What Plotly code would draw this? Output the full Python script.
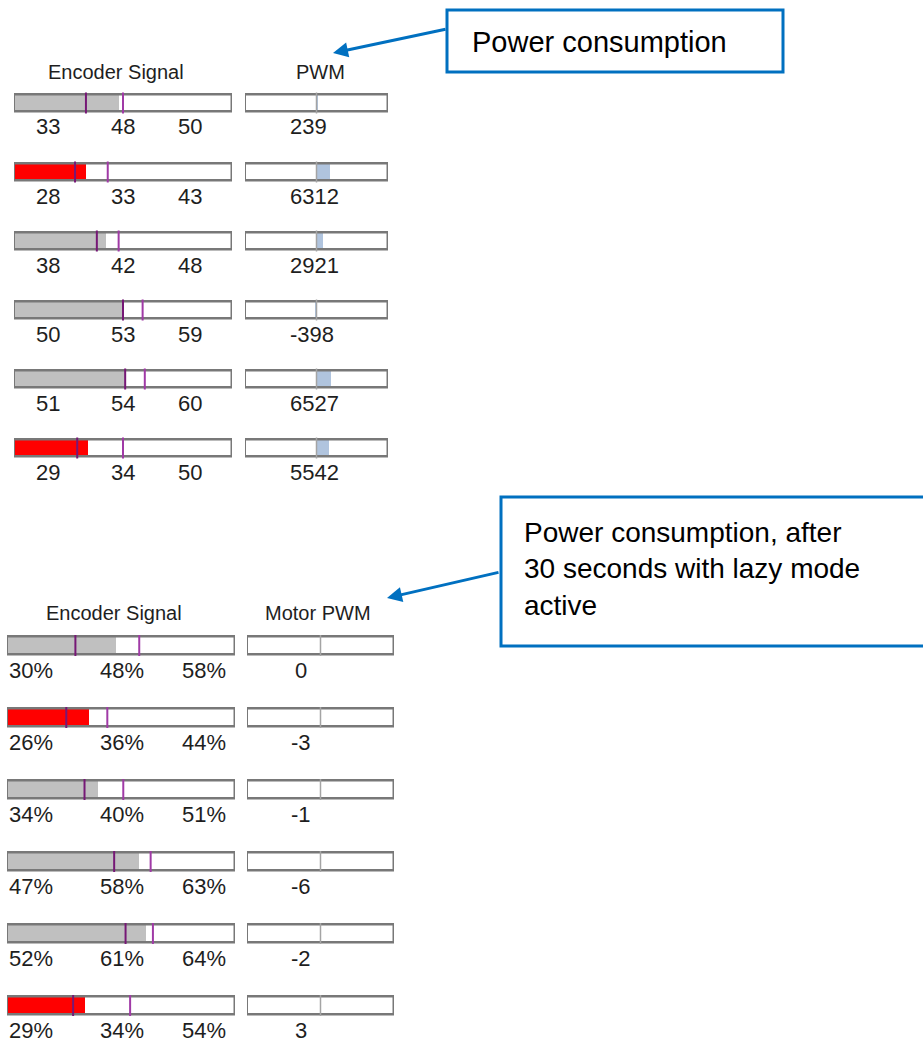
import plotly.graph_objects as go

W, H = 923, 1043

# ---------------- data ----------------
rows = [0, 1, 2, 3, 4, 5]

top_headers = ["Encoder Signal", "PWM"]
top_enc_min = [33, 28, 38, 50, 51, 29]
top_enc_val = [48, 33, 42, 53, 54, 34]
top_enc_max = [50, 43, 48, 59, 60, 50]
top_enc_fill = [48, 33, 42, 50, 51, 34]
top_alarm = [False, True, False, False, False, True]
top_pwm = [239, 6312, 2921, -398, 6527, 5542]

bot_headers = ["Encoder Signal", "Motor PWM"]
bot_enc_min = [30, 26, 34, 47, 52, 29]
bot_enc_val = [48, 36, 40, 58, 61, 34]
bot_enc_max = [58, 44, 51, 63, 64, 54]
bot_alarm = [False, True, False, False, False, True]
bot_pwm = [0, -3, -1, -6, -2, 3]

callout_top = "Power consumption"
callout_bot = "Power consumption, after<br>30 seconds with lazy mode<br>active"

ENC_MAX = 100
TOP_PWM_MAX = 32768
BOT_PWM_MAX = 1024

# ---------------- styles ----------------
GRAY_FILL = "#C0C0C0"
RED_FILL = "#FF0000"
BLUE_FILL = "#B0C4DE"
FRAME = "#787878"
MARK_MIN = "#761876"
MARK_MAX = "#a03aa6"
CENTER = "#a4a4a4"
CALLOUT = "#0070C0"
TXT = "#1e1e1e"
LABEL_FONT = dict(family="Liberation Sans Narrow, Arial Narrow, Liberation Sans, sans-serif", size=22, color=TXT)
HEAD_FONT = dict(family="Liberation Sans, Arial, sans-serif", size=20, color=TXT)
CALL_FONT = dict(family="Liberation Sans, Arial, sans-serif", size=29, color="#000000")


def xdom(a, b):
    return [a / W, b / W]


def ydom(c0, pitch, n=6):
    top = c0 - pitch / 2
    bot = c0 + (n - 0.5) * pitch
    return [max(0, 1 - bot / H), min(1, 1 - top / H)]


def px(x):
    return x / W


def py(y):
    return 1 - y / H


fig = go.Figure()


def enc_gauge(xa, ya, mins, fills, maxs, alarm, bw, msize):
    colors = [RED_FILL if a else GRAY_FILL for a in alarm]
    fig.add_trace(go.Bar(orientation="h", y=rows, x=fills, base=0, width=bw,
                         marker=dict(color=colors, line=dict(width=0)),
                         xaxis=xa, yaxis=ya, hoverinfo="skip"))
    fig.add_trace(go.Bar(orientation="h", y=rows, x=[ENC_MAX] * len(rows), base=0, width=bw,
                         marker=dict(color="rgba(0,0,0,0)", line=dict(color=FRAME, width=2.5)),
                         xaxis=xa, yaxis=ya, hoverinfo="skip"))
    fig.add_trace(go.Scatter(x=mins, y=rows, mode="markers", xaxis=xa, yaxis=ya,
                             marker=dict(symbol="line-ns", size=msize,
                                         line=dict(color=MARK_MIN, width=2)),
                             hoverinfo="skip"))
    fig.add_trace(go.Scatter(x=maxs, y=rows, mode="markers", xaxis=xa, yaxis=ya,
                             marker=dict(symbol="line-ns", size=msize,
                                         line=dict(color=MARK_MAX, width=2)),
                             hoverinfo="skip"))


def pwm_gauge(xa, ya, vals, vmax, bw):
    fig.add_trace(go.Bar(orientation="h", y=rows, x=vals, base=0, width=bw,
                         marker=dict(color=BLUE_FILL, line=dict(width=0)),
                         xaxis=xa, yaxis=ya, hoverinfo="skip"))
    fig.add_trace(go.Bar(orientation="h", y=rows, x=[2 * vmax] * len(rows), base=-vmax, width=bw,
                         marker=dict(color="rgba(0,0,0,0)", line=dict(color=FRAME, width=2.5)),
                         xaxis=xa, yaxis=ya, hoverinfo="skip"))
    # centre (zero) tick of each PWM gauge
    fig.add_trace(go.Scatter(x=[0] * len(rows), y=rows, mode="markers", xaxis=xa, yaxis=ya,
                             marker=dict(symbol="line-ns", size=15,
                                         line=dict(color=CENTER, width=1.5)),
                             hoverinfo="skip"))


# top section
enc_gauge("x", "y", top_enc_min, top_enc_fill, top_enc_max, top_alarm, 0.26, 15)
pwm_gauge("x2", "y", top_pwm, TOP_PWM_MAX, 0.26)
# bottom section
enc_gauge("x3", "y2", bot_enc_min, bot_enc_val, bot_enc_max, bot_alarm, 0.25, 15)
pwm_gauge("x4", "y2", bot_pwm, BOT_PWM_MAX, 0.25)

ann = []
# labels top
for r in rows:
    for xv, v in zip([15.6, 50, 80.7], [top_enc_min[r], top_enc_val[r], top_enc_max[r]]):
        ann.append(dict(xref="x", yref="y", x=xv, y=r, yshift=-24, text=str(v),
                        showarrow=False, xanchor="center", yanchor="middle", font=LABEL_FONT))
    ann.append(dict(xref="paper", yref="y", x=px(288), y=r, yshift=-24, text=str(top_pwm[r]),
                    showarrow=False, xanchor="left", yanchor="middle", font=LABEL_FONT))
# labels bottom
for r in rows:
    specs = [(0.3, "left"), (50.4, "center"), (96.5, "right")]
    for (xv, anc), v in zip(specs, [bot_enc_min[r], bot_enc_val[r], bot_enc_max[r]]):
        ann.append(dict(xref="x3", yref="y2", x=xv, y=r, yshift=-24.5, text=f"{v}%",
                        showarrow=False, xanchor=anc, yanchor="middle", font=LABEL_FONT,
                        borderpad=0))
    ann.append(dict(xref="paper", yref="y2", x=px(301), y=r, yshift=-24.5, text=str(bot_pwm[r]),
                    showarrow=False, xanchor="center", yanchor="middle", font=LABEL_FONT,
                    borderpad=0))

# headers
ann.append(dict(xref="paper", yref="paper", x=px(116), y=py(72), text=top_headers[0],
                showarrow=False, xanchor="center", yanchor="middle", font=HEAD_FONT))
ann.append(dict(xref="paper", yref="paper", x=px(320), y=py(72), text=top_headers[1],
                showarrow=False, xanchor="center", yanchor="middle", font=HEAD_FONT))
ann.append(dict(xref="paper", yref="paper", x=px(114), y=py(613), text=bot_headers[0],
                showarrow=False, xanchor="center", yanchor="middle", font=HEAD_FONT))
ann.append(dict(xref="paper", yref="paper", x=px(318), y=py(613), text=bot_headers[1],
                showarrow=False, xanchor="center", yanchor="middle", font=HEAD_FONT))

# callouts
ann.append(dict(xref="paper", yref="paper", x=px(470), y=py(42), text=callout_top,
                showarrow=False, xanchor="left", yanchor="middle", font=CALL_FONT))
ann.append(dict(xref="paper", yref="paper", x=px(522), y=py(569), text=callout_bot, align="left",
                showarrow=False, xanchor="left", yanchor="middle",
                font=dict(family=CALL_FONT["family"], size=28, color="#000000")))
ann.append(dict(xref="paper", yref="paper", x=px(333), y=py(53), ax=114, ay=-24, text="",
                showarrow=True, arrowhead=2, arrowsize=1, arrowwidth=3, arrowcolor=CALLOUT,
                axref="pixel", ayref="pixel"))
ann.append(dict(xref="paper", yref="paper", x=px(387), y=py(598), ax=113, ay=-26, text="",
                showarrow=True, arrowhead=2, arrowsize=1, arrowwidth=3, arrowcolor=CALLOUT,
                axref="pixel", ayref="pixel"))

shapes_extra = [
    dict(type="rect", xref="paper", yref="paper", x0=px(447), x1=px(783), y0=py(72), y1=py(10),
         line=dict(color=CALLOUT, width=3), fillcolor="rgba(0,0,0,0)"),
    dict(type="rect", xref="paper", yref="paper", x0=px(501), x1=px(935), y0=py(646), y1=py(497),
         line=dict(color=CALLOUT, width=3), fillcolor="rgba(0,0,0,0)"),
]
for s in shapes_extra:
    fig.add_shape(**s)

ax_common = dict(visible=False, fixedrange=True, showgrid=False, zeroline=False)
fig.update_layout(
    width=W, height=H, margin=dict(l=0, r=0, t=0, b=0),
    paper_bgcolor="white", plot_bgcolor="rgba(0,0,0,0)",
    showlegend=False, barmode="overlay", bargap=0,
    annotations=ann,
    xaxis=dict(domain=xdom(14, 232), range=[0, ENC_MAX], anchor="y", **ax_common),
    xaxis2=dict(domain=xdom(245, 388), range=[-TOP_PWM_MAX, TOP_PWM_MAX], anchor="y", **ax_common),
    xaxis3=dict(domain=xdom(7, 235), range=[0, ENC_MAX], anchor="y2", **ax_common),
    xaxis4=dict(domain=xdom(247, 394), range=[-BOT_PWM_MAX, BOT_PWM_MAX], anchor="y2", **ax_common),
    yaxis=dict(domain=ydom(103, 69), range=[5.5, -0.5], anchor="x", **ax_common),
    yaxis2=dict(domain=ydom(645.5, 72), range=[5.5, -0.5], anchor="x3", **ax_common),
)

fig.write_html("out.html", config={"displayModeBar": False},
               post_script="document.body.style.margin='0';document.body.style.overflow='hidden';")
